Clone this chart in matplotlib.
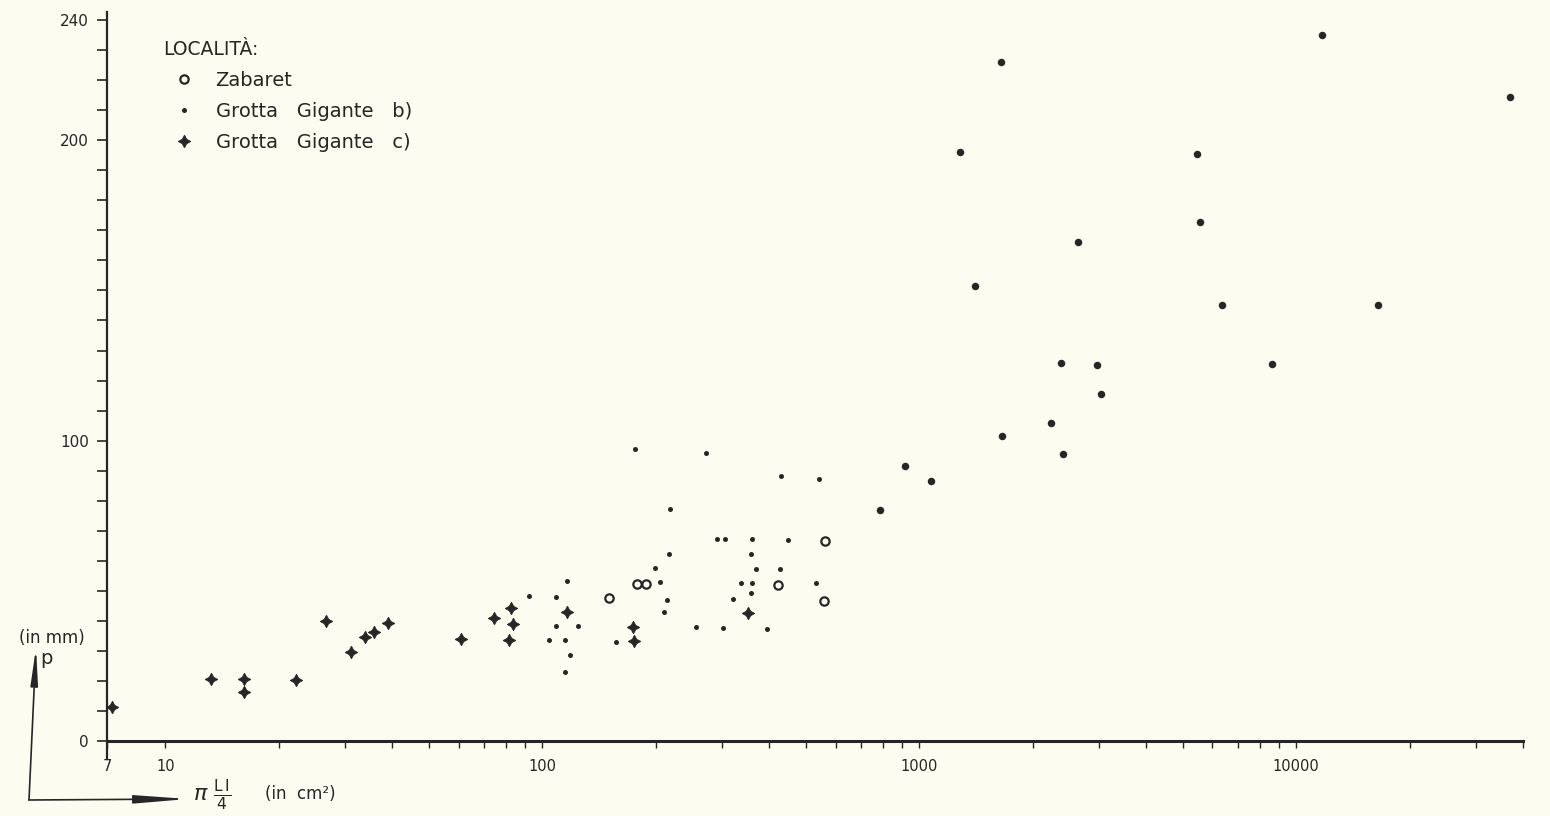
import matplotlib
matplotlib.use('Agg')
import matplotlib.pyplot as plt
import numpy as np
from matplotlib.ticker import FixedLocator, NullFormatter, FixedFormatter

plt.rcParams['font.family'] = ['DejaVu Sans']
plt.rcParams['mathtext.fontset'] = 'dejavusans'

# ========== 数据 ==========
# Zabaret (cerchi vuoti)
zab_x = [150, 178, 188, 421, 561, 559]
zab_y = [47.7, 52.4, 52.4, 51.9, 66.7, 46.6]

# Grotta Gigante b) (punti)
ggb_x = [92, 109, 116, 109, 124.5, 104.4, 115.2, 118.4, 114.8, 156.7,
         176.6, 272.3, 428.6, 540.6, 217.8, 289.9, 305, 360.6, 449.8, 358.1,
         216.3, 199.5, 369.7, 427.7, 204.8, 335.8, 359.8, 533.3, 357.9, 213.8,
         321.4, 210.4, 255.9, 301.3, 395.6,
         785, 918, 1074, 1403, 1656, 2234, 2404, 2372, 2972, 3040,
         1644, 1280, 2642, 5457, 5565, 6366, 11720, 36980, 16520, 8650]
ggb_y = [48.4, 48.0, 53.3, 38.4, 38.3, 33.6, 33.6, 28.5, 23.0, 33.1,
         97.1, 95.8, 88.2, 87.1, 77.2, 67.3, 67.3, 67.3, 66.8, 62.2,
         62.2, 57.7, 57.2, 57.4, 52.8, 52.5, 52.5, 52.5, 49.2, 47.0,
         47.3, 42.8, 37.9, 37.7, 37.4,
         77.0, 91.6, 86.4, 151.4, 101.5, 105.9, 95.5, 125.8, 125.3, 115.4,
         225.9, 196.2, 166.2, 195.3, 172.8, 145.0, 234.9, 214.4, 145.0, 125.4]

# Grotta Gigante c) (crocette)
ggc_x = [7.2, 13.2, 16.2, 16.2, 22.2, 26.6, 31.1, 33.8, 35.8, 39.0,
         61.0, 74.5, 82.8, 83.6, 81.5, 116.4, 174, 175, 351.6]
ggc_y = [11.2, 20.6, 20.6, 16.4, 20.3, 39.9, 29.7, 34.7, 36.2, 39.4,
         33.9, 40.8, 44.2, 38.8, 33.6, 42.8, 38.0, 33.3, 42.5]

x_major = [7, 10, 100, 1000, 10000]
x_major_labels = ['7', '10', '100', '1000', '10000']
y_labels_at = [0, 100, 200, 240]

ink = '#262626'
paper = '#fcfcf1'

fig = plt.figure(figsize=(15.5, 8.16), dpi=100, facecolor=paper)
ax = fig.add_axes([107 / 1550, 57 / 816, 1416 / 1550, 747 / 816])
ax.set_facecolor(paper)

ggb_x = np.array(ggb_x)
ggb_y = np.array(ggb_y)
big = ggb_x >= 700

ax.plot(zab_x, zab_y, linestyle='none', marker='o', markersize=6,
        markerfacecolor='none', markeredgecolor=ink, markeredgewidth=1.6,
        label='Zabaret')
ax.plot(ggb_x[~big], ggb_y[~big], linestyle='none', marker='o',
        markersize=3.6, color=ink, markeredgewidth=0,
        label='Grotta   Gigante   b)')
ax.plot(ggb_x[big], ggb_y[big], linestyle='none', marker='o',
        markersize=5.4, color=ink, markeredgewidth=0)
ax.plot(ggc_x, ggc_y, linestyle='none', marker=(4, 1, 0), markersize=9,
        color=ink, markeredgewidth=0.6, label='Grotta   Gigante   c)')

ax.set_xscale('log')
ax.set_xlim(7, 40000)
ax.set_ylim(-6, 242.7)

# assi
for s in ['top', 'right']:
    ax.spines[s].set_visible(False)
ax.spines['bottom'].set_position(('data', 0))
ax.spines['bottom'].set_linewidth(2.2)
ax.spines['left'].set_linewidth(1.6)
ax.spines['bottom'].set_color(ink)
ax.spines['left'].set_color(ink)

ax.xaxis.set_major_locator(FixedLocator(x_major))
ax.xaxis.set_major_formatter(FixedFormatter(x_major_labels))
minor_x = [m * 10 ** e for e in range(1, 5) for m in range(2, 10) if m * 10 ** e <= 40000]
ax.xaxis.set_minor_locator(FixedLocator(minor_x))
ax.xaxis.set_minor_formatter(NullFormatter())
ax.tick_params(axis='x', which='both', direction='out', length=5, width=1,
               color=ink, labelsize=10.5, labelcolor=ink, pad=8)

ax.yaxis.set_major_locator(FixedLocator(y_labels_at))
ax.yaxis.set_minor_locator(FixedLocator(list(range(0, 241, 10))))
ax.tick_params(axis='y', which='both', direction='out', length=7, width=1.2,
               color=ink, labelsize=11, labelcolor=ink, pad=6)

# legenda
leg = ax.legend(title='LOCALITÀ:', loc='upper left',
                bbox_to_anchor=(163 / 1550, 1 - 40 / 816),
                bbox_transform=fig.transFigure, frameon=False,
                alignment='left', borderpad=0, borderaxespad=0,
                handlelength=2.2, handletextpad=0.5, labelspacing=0.62,
                fontsize=14, title_fontsize=13.5, labelcolor=ink)
leg.get_title().set_color(ink)

# frecce e etichette in basso a sinistra
ax.annotate('', xy=(36, 168), xytext=(29, 16), xycoords='figure pixels',
            textcoords='figure pixels',
            arrowprops=dict(arrowstyle='-|>,head_length=2.2,head_width=0.22',
                            lw=1.2, color=ink, shrinkA=0, shrinkB=0,
                            mutation_scale=10))
ax.annotate('', xy=(188, 17), xytext=(29, 16), xycoords='figure pixels',
            textcoords='figure pixels',
            arrowprops=dict(arrowstyle='-|>,head_length=3.2,head_width=0.25',
                            lw=1.2, color=ink, shrinkA=0, shrinkB=0,
                            mutation_scale=10))
fig.text(52 / 1550, 178 / 816, '(in mm)', ha='center', va='center',
         fontsize=12, color=ink)
fig.text(46 / 1550, 158 / 816, 'p', ha='center', va='center',
         fontsize=14, color=ink)
fig.text(193 / 1550, 21 / 816, r'$\pi\ \frac{\mathrm{L\,l}}{4}$', ha='left',
         va='center', fontsize=16, color=ink)
fig.text(265 / 1550, 22 / 816, '(in  cm²)', ha='left', va='center',
         fontsize=12, color=ink)

plt.savefig('out.png', dpi=100, facecolor=paper)
plt.close()
